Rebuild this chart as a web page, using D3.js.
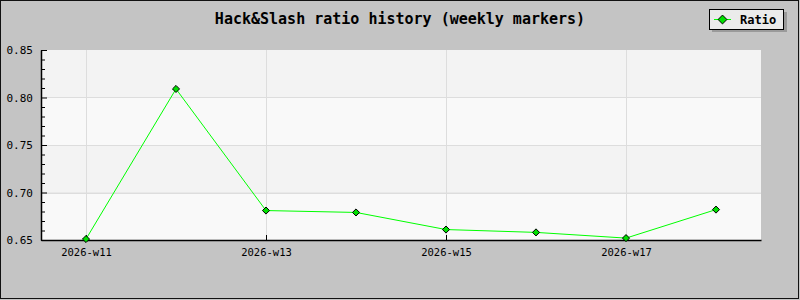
<!DOCTYPE html>
<html>
<head>
<meta charset="utf-8">
<script src="https://cdn.jsdelivr.net/npm/d3@7"></script>
<style>
  body { margin: 0; background: #c4c4c4; }
  svg { display: block; }
</style>
</head>
<body>
<div id="chart"></div>
<script>
// data
var weeks = ["2026-w11", "2026-w12", "2026-w13", "2026-w14", "2026-w15", "2026-w16", "2026-w17", "2026-w18"];
var ratio = [0.651, 0.809, 0.681, 0.679, 0.661, 0.658, 0.652, 0.682];
var yTicks = [0.65, 0.70, 0.75, 0.80, 0.85];
var seriesName = "Ratio";

var W = 800, H = 300;
var margin = {top: 50, right: 39, bottom: 60, left: 41},
    width = W - margin.left - margin.right,
    height = H - margin.top - margin.bottom;

var svg = d3.select("#chart")
  .append("svg")
    .attr("width", W)
    .attr("height", H);

// frame
svg.append("rect")
  .attr("x", 0.5).attr("y", 0.5)
  .attr("width", W - 2).attr("height", H - 2)
  .attr("fill", "#c4c4c4")
  .attr("stroke", "#111");

// title
svg.append("text")
  .attr("x", 400).attr("y", 24)
  .attr("text-anchor", "middle")
  .style("font-family", "'DejaVu Sans Mono', monospace")
  .style("font-weight", "bold")
  .style("font-size", "15px")
  .text("Hack&Slash ratio history (weekly markers)");

var g = svg.append("g")
  .attr("transform", "translate(" + margin.left + "," + margin.top + ")");

// scales
var x = d3.scalePoint()
  .domain(weeks)
  .range([0, width])
  .padding(0.5);

var y = d3.scaleLinear()
  .domain([0.65, 0.85])
  .range([height, 0]);

// alternating background bands
var bands = d3.pairs(yTicks);
g.selectAll(".band")
  .data(bands)
  .enter()
  .append("rect")
    .attr("x", 0)
    .attr("width", width)
    .attr("y", function(d) { return y(d[1]); })
    .attr("height", function(d) { return y(d[0]) - y(d[1]); })
    .attr("fill", function(d, i) { return i % 2 == 0 ? "#f9f9f9" : "#f3f3f3"; });

// grid
var labelled = weeks.filter(function(d, i) { return i % 2 == 0; });
g.selectAll(".vgrid")
  .data(labelled)
  .enter()
  .append("line")
    .attr("x1", function(d) { return Math.round(x(d)) + 0.5; })
    .attr("x2", function(d) { return Math.round(x(d)) + 0.5; })
    .attr("y1", 0).attr("y2", height)
    .attr("stroke", "#dddddd");
g.selectAll(".hgrid")
  .data(yTicks.slice(1, -1))
  .enter()
  .append("line")
    .attr("x1", 0).attr("x2", width)
    .attr("y1", function(d) { return Math.round(y(d)) + 0.5; })
    .attr("y2", function(d) { return Math.round(y(d)) + 0.5; })
    .attr("stroke", "#dddddd");

// y axis: major + minor ticks pointing inwards
var yAxis = g.append("g")
  .call(d3.axisLeft(y).tickValues(yTicks).tickFormat(d3.format(".2f"))
    .tickSizeInner(-6).tickSizeOuter(0).tickPadding(8));
var minor = d3.range(0.65, 0.8501, 0.01).filter(function(v) {
  return Math.abs(v * 20 - Math.round(v * 20)) > 0.01;
});
g.append("g")
  .call(d3.axisLeft(y).tickValues(minor).tickFormat("").tickSizeInner(-4).tickSizeOuter(0))
  .select(".domain").remove();

// x axis: ticks only on labelled weeks, pointing up
var xAxis = g.append("g")
  .attr("transform", "translate(0," + height + ")")
  .call(d3.axisBottom(x).tickValues(labelled)
    .tickSizeInner(-5).tickSizeOuter(0).tickPadding(9));

g.selectAll(".domain").attr("stroke", "#000").attr("stroke-width", 1.5);
g.selectAll(".tick line").attr("stroke", "#000");
g.selectAll(".tick text")
  .attr("fill", "#000")
  .style("font-family", "'DejaVu Sans Mono', monospace")
  .style("font-size", "10.5px");
yAxis.selectAll(".tick text").style("font-size", "11px");

// line
var line = d3.line()
  .x(function(d, i) { return x(weeks[i]); })
  .y(function(d) { return y(d); });

g.append("path")
  .datum(ratio)
  .attr("fill", "none")
  .attr("stroke", "#00ff00")
  .attr("stroke-width", 1)
  .attr("d", line);

// diamond markers
var diamond = d3.symbol().type(d3.symbolDiamond2).size(32);
g.selectAll(".pt")
  .data(ratio)
  .enter()
  .append("path")
    .attr("d", diamond)
    .attr("transform", function(d, i) { return "translate(" + x(weeks[i]) + "," + y(d) + ")"; })
    .attr("fill", "#00e000")
    .attr("stroke", "#000")
    .attr("stroke-width", 1);

// legend
var lg = svg.append("g").attr("transform", "translate(709,9)");
lg.append("rect")
  .attr("x", 3).attr("y", 3).attr("width", 75).attr("height", 20)
  .attr("fill", "#9a9a9a");
lg.append("rect")
  .attr("x", 0.5).attr("y", 0.5).attr("width", 74).attr("height", 20)
  .attr("fill", "#ebebeb").attr("stroke", "#000");
lg.append("line")
  .attr("x1", 5).attr("x2", 22).attr("y1", 10.5).attr("y2", 10.5)
  .attr("stroke", "#00ff00");
lg.append("path")
  .attr("d", d3.symbol().type(d3.symbolDiamond2).size(50))
  .attr("transform", "translate(13.5,10.5)")
  .attr("fill", "#00e000")
  .attr("stroke", "#000");
lg.append("text")
  .attr("x", 31).attr("y", 15)
  .style("font-family", "'DejaVu Sans Mono', monospace")
  .style("font-weight", "bold")
  .style("font-size", "12px")
  .text(seriesName);
</script>
</body>
</html>
